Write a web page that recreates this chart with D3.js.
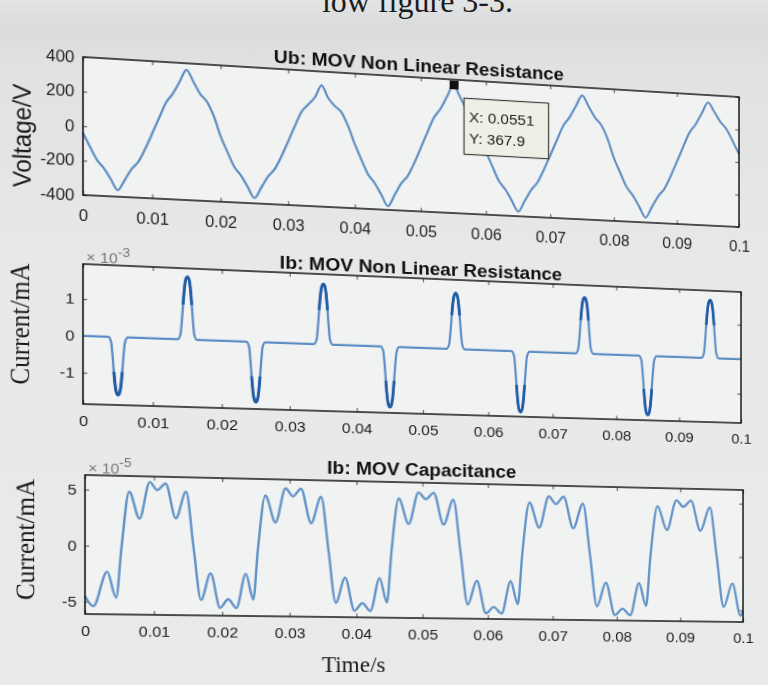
<!DOCTYPE html>
<html>
<head>
<meta charset="utf-8">
<script src="https://cdn.jsdelivr.net/npm/d3@7"></script>
<style>
  html, body { margin: 0; padding: 0; }
  body {
    width: 768px; height: 685px; overflow: hidden; position: relative;
    background: linear-gradient(180deg, #e3e4e4 0px, #d9dbdc 28px, #e1e2e3 70px, #e7e8e8 260px, #e9eaea 685px);
  }
  .panel { position: absolute; left: 0; top: 0; transform-origin: 0 0; }
  .panel svg { display: block; overflow: visible; }
  #page { position: absolute; left: 0; top: 0; }
</style>
</head>
<body>
<svg id="page" width="768" height="685"></svg>
<script>
// ---------------- data ----------------
// Ub across the MOV non-linear resistance, one sample per millisecond (V)
const ubVolts = [
  -40, -118, -192, -238, -300, -362, -302, -236, -190, -112, -22, 72, 162, 218, 290, 362, 296, 226, 182, 100,
  -15, -105, -190, -240, -305, -368, -305, -238, -192, -115, -25, 68, 155, 200, 245, 318, 245, 200, 165, 85,
  -20, -110, -195, -245, -312, -378, -310, -240, -192, -112, -20, 75, 165, 220, 295, 368, 298, 228, 182, 98,
  -18, -108, -193, -242, -308, -372, -306, -238, -190, -110, -22, 70, 160, 214, 284, 352, 288, 222, 178, 96,
  -18, -106, -190, -240, -305, -370, -305, -238, -190, -110, -20, 72, 162, 216, 286, 355, 300, 240, 195, 125,
  48
];
const ubStepMs = 1;

// Ib through the non-linear resistance (time in ms, current in 1e-3 mA)
const ibNlTimeMs = [
  0,
  3.6, 4.0, 4.2, 4.4, 4.6, 4.8, 5.0, 5.2, 5.4, 5.6, 5.8, 6.0, 6.4,
  13.6, 14.0, 14.2, 14.4, 14.6, 14.8, 15.0, 15.2, 15.4, 15.6, 15.8, 16.0, 16.4,
  23.6, 24.0, 24.2, 24.4, 24.6, 24.8, 25.0, 25.2, 25.4, 25.6, 25.8, 26.0, 26.4,
  33.6, 34.0, 34.2, 34.4, 34.6, 34.8, 35.0, 35.2, 35.4, 35.6, 35.8, 36.0, 36.4,
  43.6, 44.0, 44.2, 44.4, 44.6, 44.8, 45.0, 45.2, 45.4, 45.6, 45.8, 46.0, 46.4,
  53.6, 54.0, 54.2, 54.4, 54.6, 54.8, 55.0, 55.2, 55.4, 55.6, 55.8, 56.0, 56.4,
  63.6, 64.0, 64.2, 64.4, 64.6, 64.8, 65.0, 65.2, 65.4, 65.6, 65.8, 66.0, 66.4,
  73.6, 74.0, 74.2, 74.4, 74.6, 74.8, 75.0, 75.2, 75.4, 75.6, 75.8, 76.0, 76.4,
  83.6, 84.0, 84.2, 84.4, 84.6, 84.8, 85.0, 85.2, 85.4, 85.6, 85.8, 86.0, 86.4,
  93.6, 94.0, 94.2, 94.4, 94.6, 94.8, 95.0, 95.2, 95.4, 95.6, 95.8, 96.0, 96.4,
  100
];
const ibNlValue = [
  0,
  0, -0.13, -0.47, -0.95, -1.34, -1.53, -1.58, -1.53, -1.34, -0.95, -0.47, -0.13, 0,
  0, 0.14, 0.52, 1.03, 1.46, 1.67, 1.72, 1.67, 1.46, 1.03, 0.52, 0.14, 0,
  0, -0.13, -0.50, -1.00, -1.41, -1.61, -1.66, -1.61, -1.41, -1.00, -0.50, -0.13, 0,
  0, 0.13, 0.50, 1.01, 1.43, 1.63, 1.68, 1.63, 1.43, 1.01, 0.50, 0.13, 0,
  0, -0.14, -0.51, -1.01, -1.44, -1.64, -1.69, -1.64, -1.44, -1.01, -0.51, -0.14, 0,
  0, 0.13, 0.47, 0.95, 1.34, 1.53, 1.58, 1.53, 1.34, 0.95, 0.47, 0.13, 0,
  0, -0.14, -0.52, -1.03, -1.46, -1.67, -1.72, -1.67, -1.46, -1.03, -0.52, -0.14, 0,
  0, 0.13, 0.48, 0.97, 1.37, 1.56, 1.61, 1.56, 1.37, 0.97, 0.48, 0.13, 0,
  0, -0.14, -0.51, -1.02, -1.45, -1.65, -1.70, -1.65, -1.45, -1.02, -0.51, -0.14, 0,
  0, 0.13, 0.50, 1.01, 1.43, 1.63, 1.68, 1.63, 1.43, 1.01, 0.50, 0.13, 0,
  0
];

// Ib through the MOV capacitance (time in ms, current in 1e-5 mA)
const ibCTimeMs = [
  0, 1.2, 3.2, 4.5,
  5.3, 6.4, 7.9, 9.4, 10.5, 11.7, 13.2, 14.7, 15.8, 16.9, 18.3, 19.7, 20.9, 22.1, 23.5, 24.6,
  25.3, 26.4, 27.9, 29.4, 30.5, 31.7, 33.2, 34.7, 35.8, 36.9, 38.3, 39.7, 40.9, 42.1, 43.5, 44.6,
  45.3, 46.4, 47.9, 49.4, 50.5, 51.7, 53.2, 54.7, 55.8, 56.9, 58.3, 59.7, 60.9, 62.1, 63.5, 64.6,
  65.3, 66.4, 67.9, 69.4, 70.5, 71.7, 73.2, 74.7, 75.8, 76.9, 78.3, 79.7, 80.9, 82.1, 83.5, 84.6,
  85.3, 86.4, 87.9, 89.4, 90.5, 91.7, 93.2, 94.7, 95.8, 96.9, 98.3, 99.6, 100
];
const ibCValue = [
  -4.5, -5.4, -2.3, -4.6,
  0, 4.9, 2.5, 5.8, 5.1, 5.7, 2.6, 5.0, 0, -4.7, -2.3, -5.4, -4.6, -5.4, -2.3, -4.6,
  0, 4.8, 2.4, 5.5, 4.8, 5.5, 2.4, 4.8, 0, -4.8, -2.5, -5.5, -4.8, -5.5, -2.5, -4.7,
  0, 4.8, 2.5, 5.4, 4.8, 5.4, 2.5, 4.8, 0, -4.8, -2.6, -5.6, -5.0, -5.6, -2.6, -4.7,
  0, 4.7, 2.4, 5.3, 4.6, 5.3, 2.4, 4.7, 0, -4.8, -2.6, -5.6, -5.0, -5.6, -2.6, -4.7,
  0, 4.6, 2.4, 5.2, 4.6, 5.2, 2.4, 4.6, 0, -4.7, -2.5, -5.5, -5.1
];

// axis ticks
const timeTicks = [0, 0.01, 0.02, 0.03, 0.04, 0.05, 0.06, 0.07, 0.08, 0.09, 0.1];
const timeTickLabels = ["0", "0.01", "0.02", "0.03", "0.04", "0.05", "0.06", "0.07", "0.08", "0.09", "0.1"];
const ubTicks = [-400, -200, 0, 200, 400];
const ibNlTicks = [-1, 0, 1];
const ibCTicks = [-5, 0, 5];

// data cursor on the voltage trace
const tipTime = 0.0551;
const tipVolts = 367.9;

// ---------------- layout ----------------
const ML = 83, MT = 60, W = 656;
const tickFont = "'Liberation Sans', Arial, sans-serif";
const serif = "'Liberation Serif', 'Times New Roman', serif";

// projective map from the flat axes box onto a quadrilateral on the page
function projectBox(quad, H) {
  const [[x0, y0], [x1, y1], [x2, y2], [x3, y3]] = quad;
  const sx = x0 - x1 + x2 - x3, sy = y0 - y1 + y2 - y3;
  const dx1 = x1 - x2, dx2 = x3 - x2, dy1 = y1 - y2, dy2 = y3 - y2;
  const den = dx1 * dy2 - dx2 * dy1;
  const g = (sx * dy2 - dx2 * sy) / den;
  const h = (dx1 * sy - sx * dy1) / den;
  const a = x1 - x0 + g * x1, b = x3 - x0 + h * x3, c = x0;
  const d = y1 - y0 + g * y1, e = y3 - y0 + h * y3, f = y0;
  const m = [
    [a / W, b / H, c - a * ML / W - b * MT / H],
    [d / W, e / H, f - d * ML / W - e * MT / H],
    [g / W, h / H, 1 - g * ML / W - h * MT / H]
  ];
  return `matrix3d(${m[0][0]},${m[1][0]},0,${m[2][0]},${m[0][1]},${m[1][1]},0,${m[2][1]},0,0,1,0,${m[0][2]},${m[1][2]},0,${m[2][2]})`;
}

function drawPanel(cfg) {
  const H = cfg.H;
  const svgH = MT + H + 75;
  const div = d3.select("body").append("div").attr("class", "panel")
    .style("width", "768px").style("height", svgH + "px")
    .style("transform", projectBox(cfg.quad, H));
  const svg = div.append("svg").attr("width", 768).attr("height", svgH);

  const x = d3.scaleLinear().domain([0, 0.1]).range([ML, ML + W]);
  const y = d3.scaleLinear().domain(cfg.yDomain).range([MT + H, MT]);

  // axes background
  svg.append("rect").attr("x", ML).attr("y", MT).attr("width", W).attr("height", H)
    .attr("fill", "#f1f2f2");

  const styleAxis = (g, size) => {
    g.select(".domain").remove();
    g.selectAll(".tick line").attr("stroke", "#6a6a6a").attr("stroke-width", 1.2);
    g.selectAll(".tick text").attr("fill", "#222")
      .attr("font-family", tickFont).attr("font-size", size);
  };

  svg.append("g").attr("transform", `translate(0,${MT + H})`)
    .call(d3.axisBottom(x).tickValues(timeTicks).tickFormat((d, i) => timeTickLabels[i])
      .tickSizeInner(-4).tickSizeOuter(0).tickPadding(cfg.xPad))
    .call(g => styleAxis(g, cfg.tickSize));
  svg.append("g").attr("transform", `translate(0,${MT})`)
    .call(d3.axisTop(x).tickValues(timeTicks).tickFormat("").tickSizeInner(-4).tickSizeOuter(0))
    .call(g => styleAxis(g, cfg.tickSize));
  svg.append("g").attr("transform", `translate(${ML},0)`)
    .call(d3.axisLeft(y).tickValues(cfg.yTicks).tickFormat(d => String(d))
      .tickSizeInner(-4).tickSizeOuter(0).tickPadding(8))
    .call(g => styleAxis(g, cfg.tickSize));
  svg.append("g").attr("transform", `translate(${ML + W},0)`)
    .call(d3.axisRight(y).tickValues(cfg.yTicks).tickFormat("").tickSizeInner(-4).tickSizeOuter(0))
    .call(g => styleAxis(g, cfg.tickSize));

  // trace
  const line = d3.line().x(d => x(d[0])).y(d => y(d[1])).curve(d3.curveMonotoneX);
  svg.append("path").datum(cfg.points).attr("d", line)
    .attr("fill", "none").attr("stroke", cfg.color).attr("stroke-width", cfg.width)
    .attr("stroke-linejoin", "round");

  if (cfg.darkAbove) {
    const id = "clip" + cfg.id;
    const cp = svg.append("clipPath").attr("id", id);
    cp.append("rect").attr("x", ML).attr("y", MT - 5).attr("width", W)
      .attr("height", y(cfg.darkAbove) - MT + 5);
    cp.append("rect").attr("x", ML).attr("y", y(-cfg.darkAbove)).attr("width", W)
      .attr("height", MT + H + 5 - y(-cfg.darkAbove));
    svg.append("path").datum(cfg.points).attr("d", line).attr("clip-path", `url(#${id})`)
      .attr("fill", "none").attr("stroke", "#1f5ba6").attr("stroke-width", cfg.width + 0.6);
  }

  // axes box
  svg.append("rect").attr("x", ML).attr("y", MT).attr("width", W).attr("height", H)
    .attr("fill", "none").attr("stroke", "#151515").attr("stroke-width", 1.5);

  // title
  svg.append("text").attr("x", ML + W / 2).attr("y", MT - cfg.titleGap)
    .attr("text-anchor", "middle").attr("font-family", tickFont).attr("font-weight", "bold")
    .attr("font-size", 19).attr("fill", "#111").text(cfg.title);

  // y label
  svg.append("text")
    .attr("transform", `translate(${cfg.yLabelX},${MT + H / 2 + cfg.yLabelDy}) rotate(-90)`)
    .attr("text-anchor", "middle").attr("font-family", cfg.yLabelFont)
    .attr("font-size", cfg.yLabelSize).attr("fill", "#1a1a1a").text(cfg.yLabel);

  // exponent of the y axis
  if (cfg.exponent) {
    const t = svg.append("text").attr("x", ML + 3).attr("y", MT - 2)
      .attr("font-family", tickFont).attr("font-size", 15).attr("fill", "#777");
    t.append("tspan").text("\u00d7 10");
    t.append("tspan").attr("dy", -7).attr("font-size", 13).text(cfg.exponent);
  }

  return { svg, x, y, H };
}

// ---------------- panels ----------------
const ubPoints = ubVolts.map((v, i) => [i * ubStepMs / 1000, v]);
const ibNlPoints = ibNlTimeMs.map((t, i) => [t / 1000, ibNlValue[i]]);
const ibCPoints = ibCTimeMs.map((t, i) => [t / 1000, ibCValue[i]]);

const ubPanel = drawPanel({
  id: "ub", quad: [[83, 57], [739, 97], [739, 227], [83, 195]], H: 138,
  yDomain: [-400, 400], yTicks: ubTicks, points: ubPoints,
  color: "#5f8fc2", width: 2.2, xPad: 15, tickSize: 16,
  title: "Ub: MOV Non Linear Resistance", titleGap: 6,
  yLabel: "Voltage/V", yLabelFont: tickFont, yLabelSize: 24, yLabelX: 34, yLabelDy: 13
});

// data cursor
{
  const px = ubPanel.x(tipTime), py = ubPanel.y(tipVolts);
  ubPanel.svg.append("rect").attr("x", px - 4.5).attr("y", py - 4.5).attr("width", 9).attr("height", 9)
    .attr("fill", "#111");
  const bx = px + 10, by = py + 13;
  ubPanel.svg.append("rect").attr("x", bx).attr("y", by).attr("width", 86).attr("height", 58)
    .attr("fill", "#efefe6").attr("stroke", "#3a3a3a").attr("stroke-width", 1.2);
  ubPanel.svg.append("text").attr("x", bx + 5).attr("y", by + 24)
    .attr("font-family", tickFont).attr("font-size", 15.5).attr("fill", "#222")
    .text("X: " + tipTime);
  ubPanel.svg.append("text").attr("x", bx + 5).attr("y", by + 46)
    .attr("font-family", tickFont).attr("font-size", 15.5).attr("fill", "#222")
    .text("Y: " + tipVolts);
}

drawPanel({
  id: "ibnl", quad: [[83, 264], [741, 292], [741, 423], [83, 404]], H: 140,
  yDomain: [-1.85, 1.95], yTicks: ibNlTicks, points: ibNlPoints,
  color: "#5b8cc4", width: 2.2, xPad: 11, tickSize: 15.5, darkAbove: 0.95,
  title: "Ib: MOV Non Linear Resistance", titleGap: 4,
  yLabel: "Current/mA", yLabelFont: serif, yLabelSize: 25, yLabelX: 33, yLabelDy: -8,
  exponent: "-3"
});

const ibCPanel = drawPanel({
  id: "ibc", quad: [[85, 475], [743, 490], [743, 622], [85, 614]], H: 139,
  yDomain: [-6.1, 6.3], yTicks: ibCTicks, points: ibCPoints,
  color: "#6495c8", width: 2.4, xPad: 11, tickSize: 15.5,
  title: "Ib: MOV Capacitance", titleGap: 7,
  yLabel: "Current/mA", yLabelFont: serif, yLabelSize: 25, yLabelX: 35, yLabelDy: -4,
  exponent: "-5"
});

ibCPanel.svg.append("text").attr("x", ML + 0.396 * W).attr("y", MT + ibCPanel.H + 56)
  .attr("text-anchor", "middle").attr("font-family", serif).attr("font-size", 23)
  .attr("fill", "#1a1a1a").text("Time/s");

// running text of the page above the figure
d3.select("#page").append("text").attr("x", 513).attr("y", 12)
  .attr("text-anchor", "end").attr("font-family", serif).attr("font-size", 32)
  .attr("fill", "#1c1c1c").text("low figure 3-3.");
</script>
</body>
</html>
